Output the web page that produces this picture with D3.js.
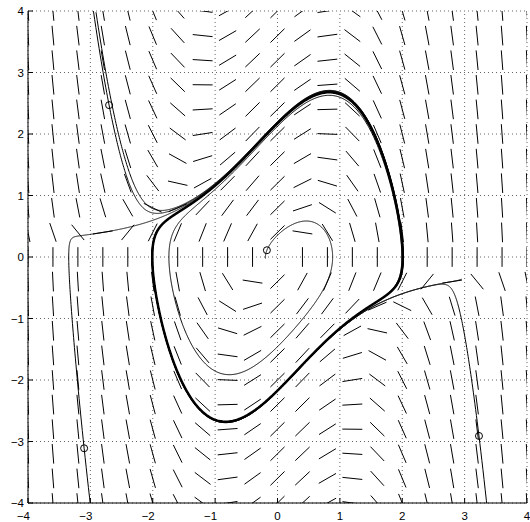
<!DOCTYPE html>
<html>
<head>
<meta charset="utf-8">
<script src="https://cdn.jsdelivr.net/npm/d3@7"></script>
<style>
  body { margin: 0; background: #fff; }
  text { font-family: "Liberation Sans", Arial, sans-serif; font-size: 11.5px; }
</style>
</head>
<body>
<script>
// van der Pol system x' = y, y' = mu(1 - x^2)y - x
const mu = 1;

const xTicks = [-4, -3, -2, -1, 0, 1, 2, 3, 4];
const yTicks = [-4, -3, -2, -1, 0, 1, 2, 3, 4];

// direction field sample points
const fieldX = [-4, -3.6, -3.2, -2.8, -2.4, -2, -1.6, -1.2, -0.8, -0.4, 0, 0.4, 0.8, 1.2, 1.6, 2, 2.4, 2.8, 3.2, 3.6, 4];
const fieldY = [-4, -3.6, -3.2, -2.8, -2.4, -2, -1.6, -1.2, -0.8, -0.4, 0, 0.4, 0.8, 1.2, 1.6, 2, 2.4, 2.8, 3.2, 3.6, 4];

// initial conditions of the solutions
const startX = [-0.17, -2.70, -3.10, 3.23, 2.95, -2.91];
const startY = [0.11, 2.47, -3.11, -2.91, -0.36, 3.98];
const forwardTime = [40, 30, 30, 30, 30, 30];
const backwardTime = [0.6, 10, 10, 10, 0, 0];
const marked = [true, true, true, true, false, false];

const width = 530, height = 522;
const margin = {top: 11, right: 3, bottom: 19, left: 28};

const svg = d3.select("body")
              .append("svg")
              .attr("width", width)
              .attr("height", height)

const x = d3.scaleLinear()
            .domain([-4, 4])
            .range([margin.left, width - margin.right])

const y = d3.scaleLinear()
            .domain([-4, 4])
            .range([height - margin.bottom, margin.top])

svg.append("defs")
   .append("clipPath")
   .attr("id", "plot")
   .append("rect")
   .attr("x", x(-4))
   .attr("y", y(4))
   .attr("width", x(4) - x(-4))
   .attr("height", y(-4) - y(4))

// dotted grid
const grid = svg.append("g")
                .attr("stroke", "#666")
                .attr("stroke-width", 1)
                .attr("stroke-dasharray", "1,3")

grid.selectAll("line.gx")
    .data(xTicks)
    .enter()
    .append("line")
    .attr("x1", d => x(d))
    .attr("x2", d => x(d))
    .attr("y1", y(-4))
    .attr("y2", y(4))

grid.selectAll("line.gy")
    .data(yTicks)
    .enter()
    .append("line")
    .attr("x1", x(-4))
    .attr("x2", x(4))
    .attr("y1", d => y(d))
    .attr("y2", d => y(d))

const deriv = (p) => [p[1], mu * (1 - p[0] * p[0]) * p[1] - p[0]];

const rk4 = (p, h) => {
    const k1 = deriv(p);
    const k2 = deriv([p[0] + h / 2 * k1[0], p[1] + h / 2 * k1[1]]);
    const k3 = deriv([p[0] + h / 2 * k2[0], p[1] + h / 2 * k2[1]]);
    const k4 = deriv([p[0] + h * k3[0], p[1] + h * k3[1]]);
    return [p[0] + h / 6 * (k1[0] + 2 * k2[0] + 2 * k3[0] + k4[0]),
            p[1] + h / 6 * (k1[1] + 2 * k2[1] + 2 * k3[1] + k4[1])];
}

const solve = (p0, T, h) => {
    const pts = [p0];
    let p = p0;
    for (let t = 0; t < T; t += Math.abs(h)) {
        p = rk4(p, h);
        pts.push(p);
        if (Math.abs(p[0]) > 4.3 || Math.abs(p[1]) > 4.3) break;
    }
    return pts;
}

// direction field
const field = [];
fieldX.forEach(fx => fieldY.forEach(fy => field.push([fx, fy])));
const half = 0.16;

svg.append("g")
   .attr("clip-path", "url(#plot)")
   .attr("stroke", "#000")
   .attr("stroke-width", 1)
   .selectAll("line")
   .data(field)
   .enter()
   .append("line")
   .attr("x1", d => { const v = deriv(d), n = Math.hypot(v[0], v[1]) || 1; return x(d[0] - half * v[0] / n) })
   .attr("y1", d => { const v = deriv(d), n = Math.hypot(v[0], v[1]) || 1; return y(d[1] - half * v[1] / n) })
   .attr("x2", d => { const v = deriv(d), n = Math.hypot(v[0], v[1]) || 1; return x(d[0] + half * v[0] / n) })
   .attr("y2", d => { const v = deriv(d), n = Math.hypot(v[0], v[1]) || 1; return y(d[1] + half * v[1] / n) })

// solutions
const line = d3.line().x(d => x(d[0])).y(d => y(d[1]));
const curves = startX.map((sx, i) => {
    const p0 = [sx, startY[i]];
    const back = backwardTime[i] > 0 ? solve(p0, backwardTime[i], -0.005).reverse() : [p0];
    const fwd = solve(p0, forwardTime[i], 0.005);
    return back.concat(fwd.slice(1));
});

const sol = svg.append("g")
               .attr("clip-path", "url(#plot)")
               .attr("fill", "none")
               .attr("stroke", "#000")

sol.selectAll("path")
   .data(curves)
   .enter()
   .append("path")
   .attr("stroke-width", 1)
   .attr("d", line)

// the attracting cycle, where the solutions pile up
const settled = solve([2, 0], 40, 0.005);
const cycle = settled.slice(settled.length - 1500);
sol.append("path")
   .attr("stroke-width", 2.5)
   .attr("d", line(cycle))

svg.append("g")
   .selectAll("circle")
   .data(startX.map((sx, i) => [sx, startY[i], marked[i]]).filter(d => d[2]))
   .enter()
   .append("circle")
   .attr("cx", d => x(d[0]))
   .attr("cy", d => y(d[1]))
   .attr("r", 3.5)
   .attr("fill", "none")
   .attr("stroke", "#000")
   .attr("stroke-width", 1)

// axes: left and bottom only
svg.append("line")
   .attr("x1", x(-4)).attr("x2", x(-4))
   .attr("y1", y(-4)).attr("y2", y(4))
   .attr("stroke", "#000")

svg.append("line")
   .attr("x1", x(-4)).attr("x2", x(4))
   .attr("y1", y(-4)).attr("y2", y(-4))
   .attr("stroke", "#000")

svg.append("g")
   .selectAll("line")
   .data(xTicks)
   .enter()
   .append("line")
   .attr("x1", d => x(d)).attr("x2", d => x(d))
   .attr("y1", y(-4)).attr("y2", y(-4) - 5)
   .attr("stroke", "#000")

svg.append("g")
   .selectAll("line")
   .data(yTicks)
   .enter()
   .append("line")
   .attr("x1", x(-4)).attr("x2", x(-4) + 5)
   .attr("y1", d => y(d)).attr("y2", d => y(d))
   .attr("stroke", "#000")

const fmt = d => d < 0 ? "\u2212" + Math.abs(d) : String(d);

svg.append("g")
   .selectAll("text")
   .data(xTicks)
   .enter()
   .append("text")
   .attr("x", d => d < 0 ? x(d) + 2 : x(d))
   .attr("y", y(-4) + 17)
   .attr("text-anchor", d => d < 0 ? "end" : "middle")
   .text(fmt)

svg.append("g")
   .selectAll("text")
   .data(yTicks)
   .enter()
   .append("text")
   .attr("x", x(-4) - 4)
   .attr("y", d => y(d) + 4)
   .attr("text-anchor", "end")
   .text(fmt)
</script>
</body>
</html>
